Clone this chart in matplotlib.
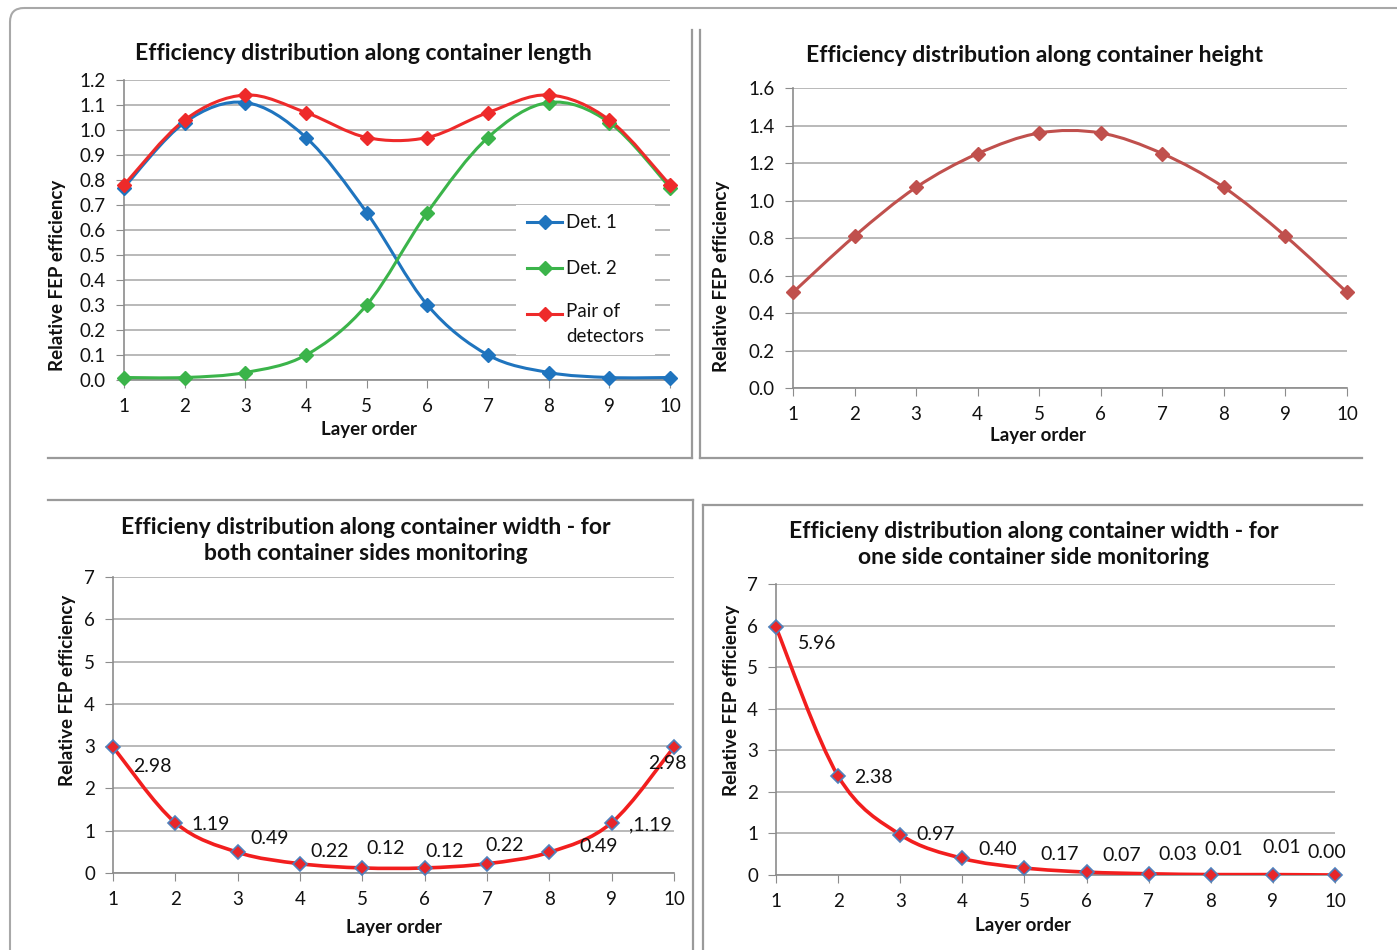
import numpy as np
import matplotlib
matplotlib.use('Agg')
import matplotlib.pyplot as plt
from matplotlib.path import Path
from matplotlib.patches import PathPatch, FancyBboxPatch, Rectangle

plt.rcParams['font.family'] = ['Lato', 'DejaVu Sans']

# data
layers = [1, 2, 3, 4, 5, 6, 7, 8, 9, 10]
det1 = [0.77, 1.03, 1.11, 0.97, 0.67, 0.30, 0.10, 0.03, 0.01, 0.01]
det2 = [0.01, 0.01, 0.03, 0.10, 0.30, 0.67, 0.97, 1.11, 1.03, 0.77]
pair = [0.78, 1.04, 1.14, 1.07, 0.97, 0.97, 1.07, 1.14, 1.04, 0.78]
height = [0.51, 0.81, 1.07, 1.25, 1.36, 1.36, 1.25, 1.07, 0.81, 0.51]
width_both = [2.98, 1.19, 0.49, 0.22, 0.12, 0.12, 0.22, 0.49, 1.19, 2.98]
width_both_labels = ['2.98', '1.19', '0.49', '0.22', '0.12', '0.12', '0.22', '0.49', ',1.19', '2.98']
width_one = [5.96, 2.38, 0.97, 0.40, 0.17, 0.07, 0.03, 0.01, 0.01, 0.00]
width_one_labels = ['5.96', '2.38', '0.97', '0.40', '0.17', '0.07', '0.03', '0.01', '0.01', '0.00']
legend_labels = ['Det. 1', 'Det. 2', 'Pair of\ndetectors']

# label offsets in pixels (dx right, dy down) - labels were hand-placed in the original
both_offsets = [(39, 20), (35, 2), (32, -14), (30, -12), (23, -19), (20, -16), (18, -18), (49, -6), (39, 2), (-7, 17)]
one_offsets = [(41, 16), (35, 1), (35, 0), (35, -9), (35, -13), (35, -17), (29, -19), (13, -25), (9, -27), (-8, -22)]

W, H = 1397, 950
TICK_FS = 13.5
TITLE_FS = 16.5
LABEL_FS = 13.5
MS = 7.5

fig = plt.figure(figsize=(W / 100, H / 100), dpi=100)

# background axes in pixel coords for frames and text
bg = fig.add_axes([0, 0, 1, 1], zorder=-1)
bg.set_xlim(0, W)
bg.set_ylim(H, 0)
bg.axis('off')

bg.add_patch(FancyBboxPatch((10, 8), W + 40, H + 40, boxstyle='round,pad=0,rounding_size=14',
                            fill=False, ec='#A8A8A8', lw=1.5))
frame_c = '#9A9A9A'
for xs, ys in [([48, 692], [458, 458]), ([692, 692], [30, 458]),
               ([700, 700], [30, 458]), ([700, 1362], [458, 458]),
               ([48, 693], [500, 500]), ([693, 693], [500, 950]),
               ([703, 1362], [505, 505]), ([703, 703], [505, 950])]:
    bg.plot(xs, ys, color=frame_c, lw=1.6)


def px_axes(x0, ytop, x1, ybot):
    return fig.add_axes([x0 / W, 1 - ybot / H, (x1 - x0) / W, (ybot - ytop) / H])


def smooth(ax, x, y, color, lw=2.2):
    # excel-like smoothed line through the points (bezier)
    n = len(x)
    verts = [(x[0], y[0])]
    codes = [Path.MOVETO]
    for i in range(n - 1):
        xp, yp = (x[i - 1], y[i - 1]) if i > 0 else (x[i], y[i])
        xn, yn = (x[i + 2], y[i + 2]) if i + 2 < n else (x[i + 1], y[i + 1])
        c1 = (x[i] + (x[i + 1] - xp) / 6, y[i] + (y[i + 1] - yp) / 6)
        c2 = (x[i + 1] - (xn - x[i]) / 6, y[i + 1] - (yn - y[i]) / 6)
        verts += [c1, c2, (x[i + 1], y[i + 1])]
        codes += [Path.CURVE4] * 3
    ax.add_patch(PathPatch(Path(verts, codes), fill=False, ec=color, lw=lw, zorder=3))


def style(ax, ymax, ystep, fmt):
    ticks = np.arange(0, ymax + ystep / 2, ystep)
    ax.set_xlim(1, 10)
    ax.set_ylim(0, ymax)
    ax.set_xticks(layers)
    ax.set_yticks(ticks)
    ax.set_yticklabels([fmt.format(v) for v in ticks])
    for s in ['top', 'right']:
        ax.spines[s].set_visible(False)
    for s in ['left', 'bottom']:
        ax.spines[s].set_color('#8C8C8C')
        ax.spines[s].set_linewidth(1.2)
    ax.grid(axis='y', color='#A6A6A6', lw=1.1)
    ax.set_axisbelow(True)
    ax.tick_params(axis='both', direction='out', length=6, color='#8C8C8C', labelsize=TICK_FS,
                   labelcolor='#111111')
    ax.tick_params(axis='x', pad=7)
    ax.tick_params(axis='y', pad=7)
    ax.patch.set_alpha(0)


def txt(x, y, s, **kw):
    kw.setdefault('ha', 'center')
    bg.text(x, y, s, va='center', color='#111111', **kw)


# top-left: length
ax1 = px_axes(124, 80, 670, 380)
style(ax1, 1.2, 0.1, '{:.1f}')
colors1 = ['#1F74BE', '#3BB44A', '#EE2A2A']
for vals, c in zip([det1, det2, pair], colors1):
    smooth(ax1, layers, vals, c)
    ax1.plot(layers, vals, ls='None', color=c, marker='D', ms=MS, zorder=4, clip_on=False)

# legend drawn by hand so the handles sit on the first text line
leg = fig.add_axes([0, 0, 1, 1], zorder=5)
leg.set_xlim(0, W)
leg.set_ylim(H, 0)
leg.axis('off')
leg.add_patch(Rectangle((516, 205), 139, 150, fc='white', ec='none'))
for i, (c, lab) in enumerate(zip(colors1, legend_labels)):
    yy = 222 + 46 * i
    leg.plot([527, 562], [yy, yy], color=c, lw=2.2)
    leg.plot([545], [yy], color=c, marker='D', ms=MS)
    t = leg.text(566, yy, lab, fontsize=TICK_FS, va='center', color='#111111', linespacing=1.55)
    if '\n' in lab:
        t.set_va('top')
        t.set_y(yy - 11)

txt(363, 54, 'Efficiency distribution along container length', fontsize=TITLE_FS, fontweight='bold')
txt(57, 275, 'Relative FEP efficiency', fontsize=LABEL_FS, fontweight='bold', rotation=90)
txt(369, 430, 'Layer order', fontsize=LABEL_FS, fontweight='bold')

# top-right: height
ax2 = px_axes(793, 88, 1347, 388)
style(ax2, 1.6, 0.2, '{:.1f}')
smooth(ax2, layers, height, '#C0504D')
ax2.plot(layers, height, ls='None', color='#C0504D', marker='D', ms=MS, zorder=4, clip_on=False)
txt(1034, 55, 'Efficiency distribution along container height', fontsize=TITLE_FS, fontweight='bold')
txt(722, 276, 'Relative FEP efficiency', fontsize=LABEL_FS, fontweight='bold', rotation=90)
txt(1038, 435, 'Layer order', fontsize=LABEL_FS, fontweight='bold')

# bottom-left: width, both sides
ax3 = px_axes(113, 577, 674, 873)
style(ax3, 7, 1, '{:.0f}')
smooth(ax3, layers, width_both, '#F21E1E', lw=2.6)
ax3.plot(layers, width_both, ls='None', marker='D', ms=MS, mfc='#E8262A', mec='#4F81BD', mew=1.2,
         zorder=4, clip_on=False)
for xv, yv, s, (dx, dy) in zip(layers, width_both, width_both_labels, both_offsets):
    ax3.annotate(s, (xv, yv), xytext=(dx * 0.72, -dy * 0.72), textcoords='offset points',
                 ha='center', va='center', fontsize=14, color='#111111', annotation_clip=False)
txt(366, 527, 'Efficieny distribution along container width - for', fontsize=TITLE_FS, fontweight='bold')
txt(366, 553, 'both container sides monitoring', fontsize=TITLE_FS, fontweight='bold')
txt(67, 690, 'Relative FEP efficiency', fontsize=LABEL_FS, fontweight='bold', rotation=90)
txt(394, 928, 'Layer order', fontsize=LABEL_FS, fontweight='bold')

# bottom-right: width, one side
ax4 = px_axes(776, 584, 1335, 875)
style(ax4, 7, 1, '{:.0f}')
smooth(ax4, layers, width_one, '#F21E1E', lw=2.6)
ax4.plot(layers, width_one, ls='None', marker='D', ms=MS, mfc='#E8262A', mec='#4F81BD', mew=1.2,
         zorder=4, clip_on=False)
for xv, yv, s, (dx, dy) in zip(layers, width_one, width_one_labels, one_offsets):
    ax4.annotate(s, (xv, yv), xytext=(dx * 0.72, -dy * 0.72), textcoords='offset points',
                 ha='center', va='center', fontsize=14, color='#111111', annotation_clip=False)
txt(1034, 531, 'Efficieny distribution along container width - for', fontsize=TITLE_FS, fontweight='bold')
txt(1034, 557, 'one side container side monitoring', fontsize=TITLE_FS, fontweight='bold')
txt(732, 700, 'Relative FEP efficiency', fontsize=LABEL_FS, fontweight='bold', rotation=90)
txt(1023, 925, 'Layer order', fontsize=LABEL_FS, fontweight='bold')

fig.savefig('out.png', dpi=100, facecolor='white')
